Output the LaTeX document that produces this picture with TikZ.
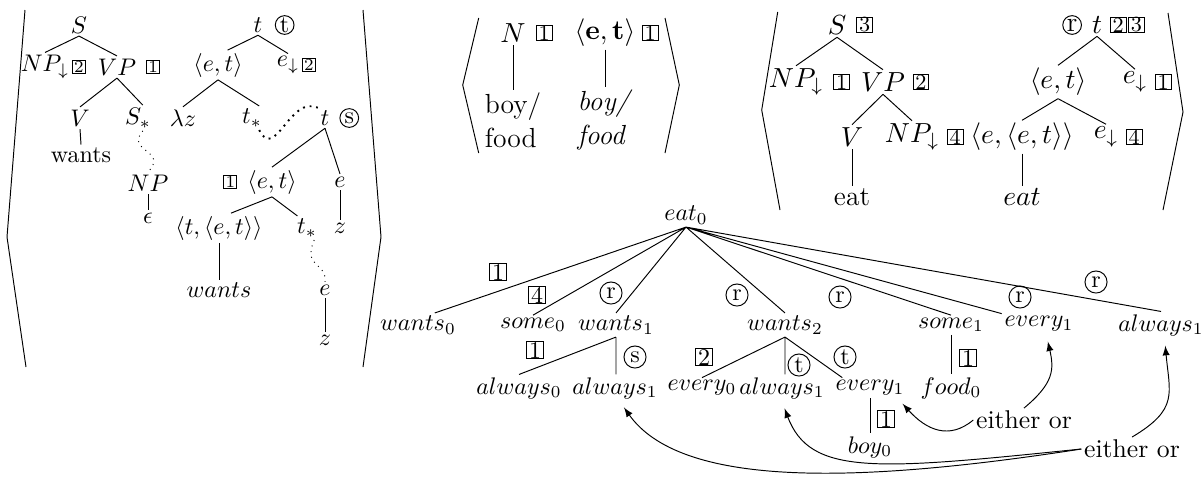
\documentclass[tikz,border=0pt]{standalone}
\usepackage{fix-cm}
\begin{document}
\begin{tikzpicture}[x=0.4167pt, y=-0.4167pt,
		every node/.style={inner sep=1pt},
		boxed/.style={draw, rectangle, inner sep=0pt, minimum size=5.4pt, font=\scriptsize},
		topboxed/.style={boxed, minimum size=6.6pt, font=\small},
		bigboxed/.style={draw, rectangle, inner sep=0pt, minimum size=7.3pt},
		circled/.style={draw, circle, inner sep=0pt, minimum size=7.8pt},
		bigcircled/.style={draw, circle, inner sep=0pt, minimum size=9.2pt},
		bigfont/.style={font=\fontsize{11.5}{14}\selectfont},
		note/.style={font=\fontsize{10.7}{13}\selectfont},
		pointer/.style={-latex, shorten >=3pt}
		]
	\useasboundingbox (0,0) rectangle (1202,476);

	% first pair
	\draw (25,10) -- (7,237) -- (26,367);
	\draw (363,10) -- (381,237) -- (363,367);
	\node (S) at (79,25) {$S$};
	\node [label={[boxed]right:2}] (np) at (45,67) {$NP_{\downarrow}$};
	\node [label={[boxed,label distance=3pt]right:1}] (vp) at (117,67) {$VP$};
	\node (v) at (80,118) {$V$};
	\node (sf) at (138,118) {$S_*$};
	\node (wants) at (81,155) {wants};
	\node (np2) at (148,183) {$NP$};
	\node (eps) at (148,218) {$\epsilon$};
	\draw (S.south) -- (np.north) (S.south) -- (vp.north);
	\draw (vp.south) -- (v.north) (vp.south) -- ([xshift=2pt]sf.north);
	\draw (v.south) -- (wants.north);
	\draw (np2.south) -- (eps.north);
	\draw [dotted] ([xshift=2pt]sf.south) .. controls +(-18,21) and +(21,-22) .. (np2.north);

	\node [label={[circled,label distance=4pt]right:t}] (t1) at (258,25) {$t$};
	\node (et1) at (218,65) {$\langle e,t\rangle$};
	\node [label={[boxed]right:2}] (e1) at (288,65) {$e_{\downarrow}$};
	\node (lz) at (183,118) {$\lambda z$};
	\node (ts1) at (252,118) {$t_*$};
	\node [label={[circled,label distance=3pt]right:s}] (t2) at (325,118) {$t$};
	\node [label={[boxed,label distance=3pt]left:1}] (et2) at (272,182) {$\langle e,t\rangle$};
	\node (e2) at (340,182) {$e$};
	\node (tet) at (219,228) {$\langle t,\langle e,t\rangle\rangle$};
	\node (ts2) at (307,228) {$t_*$};
	\node (z1) at (340,228) {$z$};
	\node (wsem) at (219,290) {$wants$};
	\node (e3) at (325,290) {$e$};
	\node (z2) at (325,340) {$z$};
	\draw (t1.south) -- ([xshift=4pt]et1.north) (t1.south) -- (e1.north);
	\draw (et1.south) -- (lz.north) (et1.south) -- ([xshift=3pt]ts1.north);
	\draw (t2.south) -- (et2.north) (t2.south) -- (e2.north);
	\draw (et2.south) -- ([xshift=5pt]tet.north) (et2.south) -- ([xshift=-4pt]ts2.north);
	\draw (e2.south) -- (z1.north);
	\draw (tet.south) -- (wsem.north);
	\draw (e3.south) -- (z2.north);
	\draw [thick, dotted] ([xshift=3pt]ts1.south) .. controls +(16,32) and +(-28,-13) .. (t2.north west);
	\draw [dotted] ([xshift=3pt]ts2.south) .. controls +(-12,28) and +(2,-20) .. (e3.north);

	% second pair
	\begin{scope}[bigfont]
	\draw (478.7,18) -- (462.7,85) -- (478.7,153);
	\draw (665,18) -- (679.3,85) -- (665,153);
	\node [label={[topboxed,label distance=3pt]right:1}] (n) at (513,33) {$N$};
	\node [label={[topboxed,label distance=1.5pt]right:1}] (etb) at (605,33) {$\langle\mathbf{e},\mathbf{t}\rangle$};
	\node [align=left] (bf) at (513,120) {boy/\\food};
	\node [align=left] (bfi) at (605,120) {\textit{boy/}\\\textit{food}};
	\draw (n.south) -- (bf.north);
	\draw (etb.south) -- (bfi.north);
	\end{scope}

	% third pair
	\begin{scope}[bigfont]
	\draw (777.7,12) -- (761.7,110) -- (780,210);
	\draw (1168,13) -- (1183,112) -- (1163,210);
	\node [label={[topboxed,label distance=3pt]right:3}] (s3) at (837,25) {$S$};
	\node [label={[topboxed,label distance=3pt]right:1}] (np3) at (796,82) {$NP_{\downarrow}$};
	\node [label={[topboxed,label distance=2pt]right:2}] (vp3) at (883,82) {$VP$};
	\node (v3) at (852,137) {$V$};
	\node [label={[topboxed,label distance=2pt]right:4}] (np4) at (912,137) {$NP_{\downarrow}$};
	\node (eat) at (852,197) {eat};
	\node [label={[circled,label distance=3pt]left:r},
		label={[topboxed,label distance=2pt]right:2},
		label={[topboxed,label distance=9.6pt]right:3}] (t3) at (1097,25) {$t$};
	\node (et3) at (1058,82) {$\langle e,t\rangle$};
	\node [label={[topboxed,label distance=2pt]right:1}] (e4) at (1135,82) {$e_{\downarrow}$};
	\node (eet) at (1022,137) {$\langle e,\langle e,t\rangle\rangle$};
	\node [label={[topboxed,label distance=2pt]right:4}] (e5) at (1106,137) {$e_{\downarrow}$};
	\node (eat2) at (1022,197) {$eat$};
	\draw (s3.south) -- (np3.north) (s3.south) -- (vp3.north);
	\draw (vp3.south) -- (v3.north) (vp3.south) -- (np4.north);
	\draw (v3.south) -- (eat.north);
	\draw (t3.south) -- (et3.north) (t3.south) -- (e4.north);
	\draw (et3.south) -- (eet.north) (et3.south) -- (e5.north);
	\draw (eet.south) -- (eat2.north);
	\end{scope}

	% derivation
	\node (e0) at (686,215) {$eat_0$};
	\node (w0) at (418,325) {$wants_0$};
	\node (s0) at (533,325) {$some_0$};
	\node (w1) at (616,325) {$wants_1$};
	\node (w2) at (785,325) {$wants_2$};
	\node (s1) at (951,325) {$some_1$};
	\node (ev1t) at (1039,324) {$every_1$};
	\node (al1t) at (1161,325) {$always_1$};
	\node (a0) at (519,388) {$always_0$};
	\node (a1) at (615,388) {$always_1$};
	\node (ev0) at (702,388) {$every_0$};
	\node (a1b) at (782,388) {$always_1$};
	\node (ev1) at (870,388) {$every_1$};
	\node (boy) at (870,447) {$boy_0$};
	\node (food) at (951,388) {$food_0$};
	\node [note] (eo1) at (1024,420) {either or};
	\node [note] (eo2) at (1132,449) {either or};

	\node [bigboxed] (g1) at (498,272) {1};
	\node [bigboxed] (g4) at (537,295) {4};
	\node [bigcircled] (g5) at (611,293) {r};
	\node [bigcircled] (g6) at (737,295) {r};
	\node [bigcircled] (g7) at (840,297) {r};
	\node [bigcircled] (g8) at (1020,297) {r};
	\node [bigcircled] (g9) at (1096,282) {r};
	\node [bigboxed] (g10) at (535,350) {1};
	\node [bigcircled] (g11) at (635,357) {s};
	\node [bigboxed] (g12) at (704,357) {2};
	\node [bigcircled] (g13) at (799,365) {t};
	\node [bigcircled] (g14) at (845,357) {t};
	\node [bigboxed] (g15) at (886,419) {1};
	\node [bigboxed] (g16) at (968,358) {1};

	\draw (e0.south) -- ([xshift=7pt]w0.north) (e0.south) -- (s0.north)
		(e0.south) -- (w1.north) (e0.south) -- (w2.north)
		(e0.south) -- (s1.north) (e0.south) -- (ev1t.north west)
		(e0.south) -- (al1t.north);
	\draw (w1.south) -- (a0.north) (w1.south) -- (w1.south |- a1.north);
	\draw (w2.south) -- (ev0.north) (w2.south) -- (w2.south |- a1b.north)
		(w2.south) -- ([xshift=4pt]ev1.north west);
	\draw (ev1.south) -- (boy.north);
	\draw (s1.south) -- (food.north);

	\draw [pointer] (eo1.west) .. controls +(-24,20) and +(29,32) .. ([xshift=-4pt]ev1.south east);
	\draw [pointer] (eo1.north) .. controls +(30,-25) and +(8,35) .. ([xshift=3pt]ev1t.south);
	\draw [pointer] (eo2.north) .. controls +(47,-28) and +(5,55) .. ([xshift=1.5pt]al1t.south);
	\draw [pointer] (eo2.west) .. controls +(-205,21) and +(28,75) .. (a1b.south);
	\draw [pointer] (eo2.west) .. controls +(-232,36) and +(60,85) .. ([xshift=2pt]a1.south);
\end{tikzpicture}
\end{document}
